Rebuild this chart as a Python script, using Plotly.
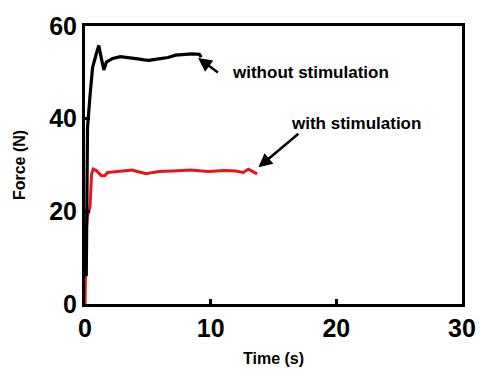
import plotly.graph_objects as go

# Data
t_without = [0.10, 0.12, 0.15, 0.20, 0.40, 0.60, 0.90, 1.10, 1.30, 1.50, 1.70, 2.2, 2.8, 3.2, 3.8, 4.2, 4.7, 5.1, 5.6, 6.0, 6.6, 7.2, 7.8, 8.5, 9.1, 9.25]
f_without = [6.0, 20.0, 35.0, 38.0, 45.0, 51.0, 54.0, 55.8, 53.0, 50.5, 52.2, 53.0, 53.4, 53.3, 53.0, 52.9, 52.7, 52.6, 52.8, 52.9, 53.2, 53.7, 53.8, 54.0, 53.9, 53.3]

t_with = [0.0, 0.05, 0.10, 0.20, 0.40, 0.52, 0.65, 0.90, 1.30, 1.56, 1.80, 2.2, 2.7, 3.2, 3.75, 4.3, 4.9, 5.4, 5.9, 7.0, 8.4, 9.8, 11.1, 12.0, 12.6, 13.0, 13.4, 13.7]
f_with = [0.0, 10.0, 16.0, 19.0, 21.0, 28.0, 29.1, 28.8, 27.7, 27.7, 28.4, 28.5, 28.6, 28.7, 28.9, 28.5, 28.1, 28.4, 28.6, 28.7, 28.9, 28.6, 28.8, 28.7, 28.4, 29.1, 28.6, 28.1]

x_ticks = [0, 10, 20, 30]
y_ticks = [0, 20, 40, 60]

FONT = "Liberation Sans, Arial, sans-serif"

fig = go.Figure()
fig.add_trace(go.Scatter(x=t_with, y=f_with, mode="lines",
                         line=dict(color="#e8141b", width=3), showlegend=False))
fig.add_trace(go.Scatter(x=t_without, y=f_without, mode="lines",
                         line=dict(color="black", width=3.2), showlegend=False))

# arrows
fig.add_annotation(x=9.0, y=53.1, ax=10.7, ay=49.7, xref="x", yref="y", axref="x", ayref="y",
                   text="", showarrow=True, arrowhead=2, arrowsize=1.1, arrowwidth=2.5, arrowcolor="black")
fig.add_annotation(x=13.8, y=29.5, ax=17.1, ay=37.0, xref="x", yref="y", axref="x", ayref="y",
                   text="", showarrow=True, arrowhead=2, arrowsize=1.1, arrowwidth=2.5, arrowcolor="black")
# labels
fig.add_annotation(x=11.5, y=49.9, xref="x", yref="y", text="without stimulation", showarrow=False,
                   xanchor="left", yanchor="middle",
                   font=dict(family=FONT, size=17, color="black", weight="bold"))
fig.add_annotation(x=21.6, y=38.9, xref="x", yref="y", text="with stimulation", showarrow=False,
                   xanchor="center", yanchor="middle",
                   font=dict(family=FONT, size=17, color="black", weight="bold"))

axis_common = dict(showgrid=False, zeroline=False, showline=True, linecolor="black", linewidth=3,
                   mirror=True, ticks="inside", ticklen=5, tickwidth=3, tickcolor="black",
                   tickfont=dict(family=FONT, size=25, color="black", weight="bold"))

fig.update_xaxes(range=[0, 30], tickvals=x_ticks, ticktext=[str(v) for v in x_ticks],
                 title=dict(text="Time (s)", font=dict(family=FONT, size=16, color="black", weight="bold"), standoff=12),
                 **axis_common)
fig.update_yaxes(range=[0, 60], tickvals=y_ticks, ticktext=[str(v) for v in y_ticks],
                 title=dict(text="Force (N)", font=dict(family=FONT, size=16, color="black", weight="bold"), standoff=20),
                 **axis_common)

fig.update_layout(width=488, height=377, margin=dict(l=85, r=20, t=25, b=67),
                  plot_bgcolor="white", paper_bgcolor="white")

fig.write_html("out.html")
